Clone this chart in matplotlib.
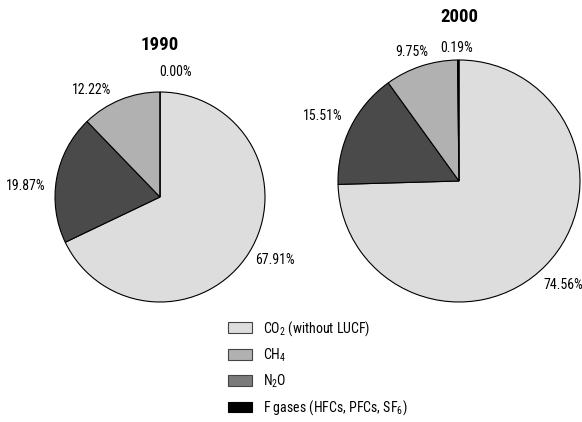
import matplotlib
matplotlib.use("Agg")
import matplotlib.pyplot as plt
from matplotlib.patches import Patch
from matplotlib import font_manager

# Greenhouse gas shares (%), order: CO2, N2O, CH4, F gases (clockwise from top)
gases = ["CO2", "N2O", "CH4", "F gases"]
share_1990 = [67.91, 19.87, 12.22, 0.00]
share_2000 = [74.56, 15.51, 9.75, 0.19]
years = ["1990", "2000"]

legend_labels = ["CO$_2$ (without LUCF)", "CH$_4$", "N$_2$O",
                 "F gases (HFCs, PFCs, SF$_6$)"]

pie_colors = {"CO2": "#dddddd", "N2O": "#4a4a4a", "CH4": "#b1b1b1", "F gases": "#000000"}
legend_colors = ["#dddddd", "#b1b1b1", "#7b7b7b", "#000000"]
legend_edges = ["#444444", "#444444", "#444444", "#000000"]

# pick a condensed sans-serif face
available = {f.name for f in font_manager.fontManager.ttflist}
candidates = ["Roboto Condensed", "Fira Sans Condensed", "Asap Condensed",
              "Archivo Narrow", "PT Sans Narrow", "Open Sans Condensed",
              "Encode Sans Condensed", "Barlow Semi Condensed",
              "Liberation Sans Narrow"]
family = next((c for c in candidates if c in available), "DejaVu Sans")
plt.rcParams["font.family"] = [family, "DejaVu Sans"]
plt.rcParams["mathtext.fontset"] = "custom"
plt.rcParams["mathtext.rm"] = family
if family == "DejaVu Sans":
    plt.rcParams["font.stretch"] = "condensed"

W, H = 582, 422
fig = plt.figure(figsize=(W / 100, H / 100), dpi=100)


def pie_axes(cx, cy, r):
    return fig.add_axes([(cx - r) / W, (H - cy - r) / H, 2 * r / W, 2 * r / H])


# label anchor points in pie radius units
label_pos_1990 = [(1.095, -0.60), (-1.276, 0.105), (-0.648, 1.02), (0.152, 1.19)]
label_pos_2000 = [(0.86, -0.86), (-1.124, 0.537), (-0.388, 1.066), (-0.017, 1.10)]

specs = [
    (share_1990, label_pos_1990, (160, 197, 105), (160, 45)),
    (share_2000, label_pos_2000, (459, 181, 121), (459, 17)),
]

for year, (vals, lpos, (cx, cy, r), (tx, ty)) in zip(years, specs):
    ax = pie_axes(cx, cy, r)
    ax.pie(vals, colors=[pie_colors[g] for g in gases], startangle=90,
           counterclock=False, radius=1.0,
           wedgeprops=dict(edgecolor="black", linewidth=0.8))
    ax.set_xlim(-1, 1)
    ax.set_ylim(-1, 1)
    ax.set_aspect("equal")
    ax.axis("off")
    for v, (lx, ly) in zip(vals, lpos):
        ax.text(lx, ly, f"{v:.2f}%", ha="center", va="center", fontsize=10,
                clip_on=False)
    fig.text(tx / W, 1 - ty / H, year, ha="center", va="center",
             fontsize=13.5, fontweight="bold")

handles = [Patch(facecolor=c, edgecolor=e, linewidth=0.8)
           for c, e in zip(legend_colors, legend_edges)]
fig.legend(handles, legend_labels, loc="upper left",
           bbox_to_anchor=(217 / W, 1 - 308 / H), frameon=False,
           fontsize=10, handlelength=1.75, handleheight=0.8,
           handletextpad=0.75, labelspacing=0.62, borderpad=0.3)

fig.savefig("out.png", dpi=100)
